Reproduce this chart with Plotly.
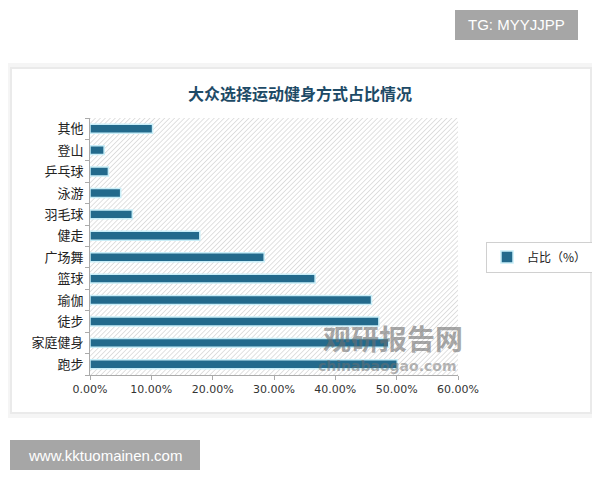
import base64
import plotly.graph_objects as go

# Data (bottom to top as drawn by Plotly)
categories = ["跑步", "家庭健身", "徒步", "瑜伽", "篮球", "广场舞", "健走",
              "羽毛球", "泳游", "乒乓球", "登山", "其他"]
shares = [0.501, 0.487, 0.471, 0.459, 0.367, 0.284, 0.179,
          0.069, 0.050, 0.030, 0.023, 0.102]
x_ticks = [0, 0.1, 0.2, 0.3, 0.4, 0.5, 0.6]
series_name = "占比（%）"
title_text = "大众选择运动健身方式占比情况"

CJK = "Noto Sans CJK SC"
BAR = "#236a8c"

# hatched background pattern for the plot area
svg = ('<svg xmlns="http://www.w3.org/2000/svg" width="368" height="257">'
       '<defs><pattern id="p" width="3.5" height="3.5" patternUnits="userSpaceOnUse" '
       'patternTransform="rotate(45)"><rect width="3.5" height="3.5" fill="#ffffff"/>'
       '<line x1="0" y1="0" x2="0" y2="3.5" stroke="#cccccc" stroke-width="1.2"/></pattern></defs>'
       '<rect width="368" height="257" fill="url(#p)"/></svg>')
svg_uri = "data:image/svg+xml;base64," + base64.b64encode(svg.encode()).decode()

# page has an 8px body margin: figure is offset by 8px
OFF = 8


def px(xp):
    return (xp - 90) / 368


def py(yp):
    return (375 - yp) / 257


fig = go.Figure()
fig.add_trace(go.Bar(
    y=categories, x=shares, orientation="h", name=series_name,
    width=0.42,
    marker=dict(color=BAR, line=dict(color="#c9eef8", width=1.5)),
    showlegend=True,
))

fig.update_layout(
    width=600 - OFF, height=480 - OFF,
    margin=dict(l=90 - OFF, r=600 - 458, t=118 - OFF, b=480 - 375, autoexpand=False),
    paper_bgcolor="#ffffff",
    plot_bgcolor="rgba(0,0,0,0)",
    font=dict(family=CJK, color="#333333"),
    showlegend=True,
    legend=dict(
        x=px(486), y=py(257), xanchor="left", yanchor="middle",
        bordercolor="#d0d0d0", borderwidth=1, bgcolor="#ffffff",
        font=dict(family=CJK, size=12, color="#222222"),
        itemwidth=30, tracegroupgap=0,
    ),
    xaxis=dict(
        range=[0, 0.6], tickvals=x_ticks, tickformat=".2%",
        showgrid=False, zeroline=False,
        showline=True, linecolor="#aaaaaa", linewidth=1,
        ticks="outside", tickcolor="#aaaaaa", ticklen=4,
        tickfont=dict(family="DejaVu Sans", size=11, color="#333333"),
        fixedrange=True,
    ),
    yaxis=dict(
        showgrid=False, zeroline=False,
        showline=True, linecolor="#aaaaaa", linewidth=1,
        ticks="outside", tickcolor="#aaaaaa", ticklen=4,
        tickson="boundaries",
        tickfont=dict(family=CJK, size=13, color="#222222"),
        ticksuffix=" ",
        fixedrange=True,
    ),
    images=[dict(source=svg_uri, xref="paper", yref="paper", x=0, y=1,
                 sizex=1, sizey=1, sizing="stretch", layer="below",
                 xanchor="left", yanchor="top")],
    shapes=[
        # soft card shadow + card outline
        dict(type="rect", xref="paper", yref="paper", layer="below",
             x0=px(8), x1=px(594), y0=py(416), y1=py(65),
             line=dict(color="#f5f5f5", width=4), fillcolor="rgba(0,0,0,0)"),
        dict(type="rect", xref="paper", yref="paper", layer="below",
             x0=px(11), x1=px(591), y0=py(413), y1=py(68),
             line=dict(color="#eaeaea", width=2), fillcolor="rgba(0,0,0,0)"),
        # watermark boxes
        dict(type="rect", xref="paper", yref="paper", layer="above",
             x0=px(455), x1=px(578), y0=py(40), y1=py(10),
             line=dict(width=0), fillcolor="#a6a6a6"),
        dict(type="rect", xref="paper", yref="paper", layer="above",
             x0=px(10), x1=px(200), y0=py(470), y1=py(440),
             line=dict(width=0), fillcolor="#a6a6a6"),
    ],
    annotations=[
        dict(text="<b>" + title_text + "</b>", xref="paper", yref="paper",
             x=px(300), y=py(93), showarrow=False,
             font=dict(family=CJK, size=16, color="#1d4a66"),
             xanchor="center", yanchor="middle"),
        dict(text="TG: MYYJJPP", xref="paper", yref="paper",
             x=px(516), y=py(25), showarrow=False,
             font=dict(family="Liberation Sans", size=15, color="#ffffff"),
             xanchor="center", yanchor="middle"),
        dict(text="www.kktuomainen.com", xref="paper", yref="paper",
             x=px(105), y=py(455), showarrow=False,
             font=dict(family="Liberation Sans", size=15, color="#ffffff"),
             xanchor="center", yanchor="middle"),
        dict(text="<b>观研报告网</b>", xref="paper", yref="paper",
             x=px(393), y=py(338), showarrow=False,
             font=dict(family=CJK, size=28, color="rgba(110,110,110,0.6)"),
             xanchor="center", yanchor="middle"),
        dict(text="<b>chinabaogao.com</b>", xref="paper", yref="paper",
             x=px(387), y=py(366), showarrow=False,
             font=dict(family="DejaVu Sans", size=14, color="rgba(110,110,110,0.5)"),
             xanchor="center", yanchor="middle"),
    ],
)

fig.write_html("out.html")
